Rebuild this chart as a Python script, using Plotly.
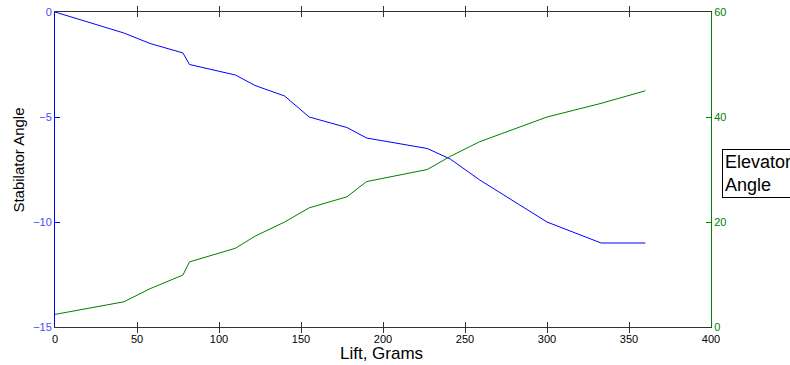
import plotly.graph_objects as go

lift = [0, 42, 58, 78, 82, 110, 122, 140, 155, 178, 190, 227, 241, 259, 300, 333, 360]
stabilator = [0, -1, -1.5, -1.95, -2.5, -3, -3.5, -4, -5, -5.5, -6, -6.5, -7, -8, -10, -11, -11]
elevator = [2.4, 4.8, 7.3, 9.9, 12.4, 15, 17.3, 20, 22.7, 24.8, 27.7, 30, 32.5, 35.3, 40, 42.6, 45]

x_ticks = [0, 50, 100, 150, 200, 250, 300, 350, 400]
y_ticks = [0, -5, -10, -15]
y2_ticks = [0, 20, 40, 60]

BLUE = "#0000ff"
GREEN = "#008000"
FONT = "Liberation Sans, Arial, sans-serif"

fig = go.Figure()
fig.add_trace(go.Scatter(x=lift, y=stabilator, mode="lines",
                         line=dict(color=BLUE, width=1), yaxis="y", showlegend=False))
fig.add_trace(go.Scatter(x=lift, y=elevator, mode="lines",
                         line=dict(color=GREEN, width=1), yaxis="y2", showlegend=False))

fig.update_layout(
    width=790, height=365,
    margin=dict(l=55, r=79, t=12, b=38),
    paper_bgcolor="white", plot_bgcolor="white",
    font=dict(family=FONT, size=11, color="black"),
    xaxis=dict(range=[0, 400], tickvals=x_ticks, ticks="inside", ticklen=5,
               tickcolor="#333333", showline=True, linecolor="#333333", linewidth=1,
               mirror="allticks", showgrid=False, zeroline=False, automargin=False,
               ticklabelstandoff=2, ticklabeloverflow="allow",
               tickfont=dict(size=11, color="black")),
    yaxis=dict(range=[-15, 0], tickvals=y_ticks, ticks="inside", ticklen=5,
               tickcolor=BLUE, showline=True, linecolor=BLUE, linewidth=1,
               showgrid=False, zeroline=False, automargin=False,
               ticklabeloverflow="allow",
               tickfont=dict(size=11, color="#4a4aff")),
    yaxis2=dict(range=[0, 60], tickvals=y2_ticks, ticks="inside", ticklen=5,
                tickcolor=GREEN, showline=True, linecolor=GREEN, linewidth=1,
                showgrid=False, zeroline=False, overlaying="y", side="right",
                automargin=False, ticklabeloverflow="allow",
                tickfont=dict(size=11, color=GREEN)),
    annotations=[
        dict(text="Elevator<br>Angle", xref="paper", yref="paper",
             x=1.0168, y=0.488, xanchor="left", yanchor="middle",
             align="left", showarrow=False, bordercolor="black",
             borderwidth=1, borderpad=2, bgcolor="white",
             font=dict(size=18, color="black")),
        dict(text="Lift, Grams", xref="paper", yref="paper",
             x=0.497, y=-0.083, xanchor="center", yanchor="middle",
             showarrow=False, font=dict(size=17, color="black")),
        dict(text="Stabilator Angle", xref="paper", yref="paper",
             x=-0.0556, y=0.53, xanchor="center", yanchor="middle",
             textangle=-90, showarrow=False, font=dict(size=15, color="black")),
    ],
)

fig.write_html("out.html", config={"displayModeBar": False},
               post_script="document.body.style.margin='0';")
